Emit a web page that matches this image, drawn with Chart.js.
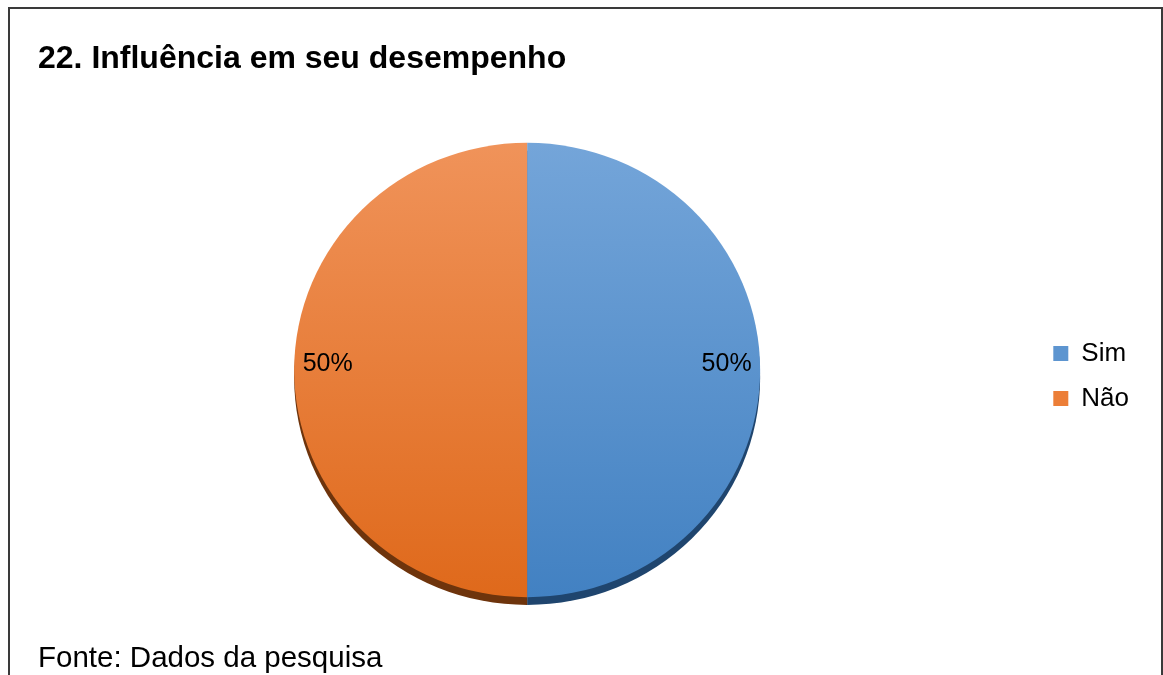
<!DOCTYPE html>
<html>
<head>
<meta charset="utf-8">
<script src="https://cdn.jsdelivr.net/npm/chart.js@4.4.0/dist/chart.umd.min.js"></script>
<style>
  html, body { margin: 0; padding: 0; background: #fff; }
  body { width: 1163px; height: 675px; position: relative; overflow: hidden; font-family: "Liberation Sans", Arial, sans-serif; }
  #frame { position: absolute; left: 8px; top: 7px; width: 1155px; height: 700px; border: 2px solid #3a3a3a; box-sizing: border-box; }
  #title { position: absolute; left: 38px; top: 39px; font-weight: bold; font-size: 32px; color: #000; white-space: nowrap; }
  #footer { position: absolute; left: 38px; top: 640px; font-size: 29.5px; color: #000; white-space: nowrap; }
  #wrap { position: absolute; left: 0; top: 0; width: 1163px; height: 675px; }
</style>
</head>
<body>
<div id="frame"></div>
<div id="wrap"><canvas id="c" width="1163" height="675"></canvas></div>
<div id="title">22. Influência em seu desempenho</div>
<div id="footer">Fonte: Dados da pesquisa</div>
<script>
const categories = ["Sim", "Não"];
const values = [50, 50];
const pctLabels = ["50%", "50%"];
const topColors = ["#74A5D9", "#F0935A"];
const bottomColors = ["#4281C2", "#DF691B"];
const shadowColors = ["#1F456E", "#6E340C"];
const legendColors = ["#5D95D0", "#EC7E37"];

const TILT = 0.975;

function grad(ctx, i) {
  const chart = ctx.chart;
  const area = chart.chartArea;
  if (!area) return legendColors[i];
  const g = chart.ctx.createLinearGradient(0, area.top, 0, area.bottom);
  g.addColorStop(0, topColors[i]);
  g.addColorStop(1, bottomColors[i]);
  return g;
}

const pie3dPlugin = {
  id: 'pie3d',
  beforeDatasetsDraw(chart) {
    const meta = chart.getDatasetMeta(0);
    const c = chart.ctx;
    const first = meta.data[0];
    const cx = first.x, cy = first.y;
    c.save();
    c.translate(cx, cy);
    c.scale(1, TILT);
    c.translate(-cx, -cy);
    meta.data.forEach((arc, i) => {
      const p = arc.getProps(['x', 'y', 'startAngle', 'endAngle', 'outerRadius'], true);
      c.beginPath();
      c.moveTo(p.x, p.y + 8);
      c.arc(p.x, p.y + 8, p.outerRadius, p.startAngle, p.endAngle);
      c.closePath();
      c.fillStyle = shadowColors[i];
      c.fill();
    });
  },
  afterDatasetsDraw(chart) {
    const c = chart.ctx;
    c.restore();
    const meta = chart.getDatasetMeta(0);
    meta.data.forEach((arc, i) => {
      const p = arc.getProps(['x', 'y', 'startAngle', 'endAngle', 'outerRadius'], true);
      const mid = (p.startAngle + p.endAngle) / 2;
      const r = p.outerRadius * 0.856;
      c.save();
      c.font = '25px "Liberation Sans", Arial, sans-serif';
      c.fillStyle = '#000';
      c.textAlign = 'center';
      c.textBaseline = 'middle';
      c.fillText(pctLabels[i], p.x + Math.cos(mid) * r, p.y + Math.sin(mid) * r * TILT - 6);
      c.restore();
    });
  }
};

new Chart(document.getElementById('c'), {
  type: 'pie',
  data: {
    labels: categories,
    datasets: [{
      data: values,
      backgroundColor: (ctx) => grad(ctx, ctx.dataIndex),
      borderWidth: 0
    }]
  },
  options: {
    responsive: false,
    animation: false,
    layout: { padding: { left: 20, right: 24, top: 137, bottom: 72 } },
    plugins: {
      tooltip: { enabled: false },
      legend: {
        position: 'right',
        align: 'center',
        title: { display: true, text: ' ', color: '#000', font: { size: 6, lineHeight: 1 }, padding: 3 },
        labels: {
          boxWidth: 15,
          boxHeight: 15,
          padding: 19,
          color: '#000',
          font: { size: 26, family: '"Liberation Sans", Arial, sans-serif' },
          generateLabels(chart) {
            return categories.map((t, i) => ({
              text: t,
              fillStyle: legendColors[i],
              strokeStyle: legendColors[i],
              fontColor: '#000',
              lineWidth: 0,
              hidden: false,
              index: i
            }));
          }
        }
      }
    }
  },
  plugins: [pie3dPlugin]
});
</script>
</body>
</html>
